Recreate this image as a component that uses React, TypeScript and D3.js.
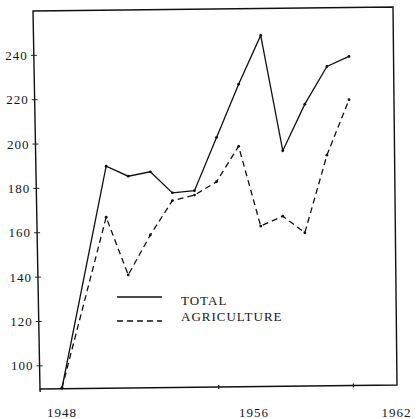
import React, { useEffect, useRef } from 'react';
import * as d3 from 'd3';

const years = [1948, 1950, 1951, 1952, 1953, 1954, 1955, 1956, 1957, 1958, 1959, 1960, 1961];
const totalValues = [90, 190, 185.5, 187.5, 178, 179, 203, 227, 249, 197, 218, 235, 239.5];
const agricultureValues = [90, 167, 141, 159, 174.5, 177, 183, 199, 163, 167.5, 160, 195, 220];

const yTicks = [100, 120, 140, 160, 180, 200, 220, 240];
const xTickLabels = ['1948', '1956', '1962'];
// labels in the original sit a little off the yearly grid
const xTickAt = [1948, 1956.7, 1963.15];
const xTickMarks = [1955.1, 1961.2];

const W = 417;
const H = 419;
const FONT = "Liberation Serif, DejaVu Serif, serif";

const App: React.FC = () => {
  const svgRef = useRef<SVGSVGElement>(null);

  useEffect(() => {
    if (!svgRef.current) return;
    const svg = d3.select(svgRef.current);
    svg.selectAll('*').remove();

    const x = d3.scaleLinear().domain([1948, 1961]).range([62, 349]);
    const y = d3.scaleLinear().domain([90, 260]).range([388, 11]);

    // the scanned frame is a bit skewed
    const frame = { tl: [33, 11], tr: [393, 7], br: [397, 385], bl: [40, 389] };
    const leftEdge = (py: number) => frame.tl[0] + (py - frame.tl[1]) * (frame.bl[0] - frame.tl[0]) / (frame.bl[1] - frame.tl[1]);
    const bottomEdge = (px: number) => frame.bl[1] + (px - frame.bl[0]) * (frame.br[1] - frame.bl[1]) / (frame.br[0] - frame.bl[0]);

    svg.append('rect').attr('width', W).attr('height', H).attr('fill', '#fff');

    svg.append('path')
      .attr('d', `M${frame.tl}L${frame.tr}L${frame.br}L${frame.bl}Z`)
      .attr('fill', 'none')
      .attr('stroke', '#111')
      .attr('stroke-width', 1.4);
    // left axis pokes out under the bottom line
    svg.append('line')
      .attr('x1', frame.bl[0]).attr('y1', frame.bl[1])
      .attr('x2', frame.bl[0] + 0.2).attr('y2', frame.bl[1] + 3)
      .attr('stroke', '#111').attr('stroke-width', 1.4);

    const textStyle = (sel: d3.Selection<SVGTextElement, unknown, null, undefined>) => sel
      .style('font-family', FONT)
      .attr('font-size', 13)
      .attr('letter-spacing', 1)
      .attr('fill', '#151515');

    // y axis ticks and labels
    const yg = svg.append('g');
    yTicks.forEach(t => {
      const py = y(t);
      const lx = leftEdge(py);
      yg.append('line')
        .attr('x1', lx - 3).attr('x2', lx + 3)
        .attr('y1', py).attr('y2', py)
        .attr('stroke', '#222').attr('stroke-width', 1);
      yg.append('text')
        .attr('x', lx - 6)
        .attr('y', py)
        .attr('dy', '0.35em')
        .attr('text-anchor', 'end')
        .call(textStyle as any)
        .text(t);
    });

    // x axis labels and stray tick marks
    const xg = svg.append('g');
    xTickLabels.forEach((lab, i) => {
      xg.append('text')
        .attr('x', x(xTickAt[i]))
        .attr('y', 417)
        .attr('text-anchor', 'middle')
        .call(textStyle as any)
        .text(lab);
    });
    xTickMarks.forEach(t => {
      const px = x(t);
      const py = bottomEdge(px);
      xg.append('line')
        .attr('x1', px).attr('x2', px)
        .attr('y1', py - 2).attr('y2', py + 2)
        .attr('stroke', '#222').attr('stroke-width', 1.3);
    });

    const line = d3.line<number>()
      .x((_, i) => x(years[i]))
      .y(d => y(d));

    const series = [
      { values: totalValues, dash: null as string | null },
      { values: agricultureValues, dash: '6,4' },
    ];

    series.forEach(s => {
      svg.append('path')
        .datum(s.values)
        .attr('d', line)
        .attr('fill', 'none')
        .attr('stroke', '#111')
        .attr('stroke-width', 1.3)
        .attr('stroke-dasharray', s.dash);
      svg.append('g')
        .selectAll('circle')
        .data(s.values)
        .enter()
        .append('circle')
        .attr('cx', (_, i) => x(years[i]))
        .attr('cy', d => y(d))
        .attr('r', 1.4)
        .attr('fill', '#111');
    });

    // legend
    const legend = [
      { label: 'TOTAL', dash: null as string | null, ly: 297, ty: 305 },
      { label: 'AGRICULTURE', dash: '6,4', ly: 321, ty: 321 },
    ];
    const lg = svg.append('g');
    legend.forEach(l => {
      lg.append('line')
        .attr('x1', 117).attr('x2', 162)
        .attr('y1', l.ly).attr('y2', l.ly)
        .attr('stroke', '#111')
        .attr('stroke-width', 1.3)
        .attr('stroke-dasharray', l.dash);
      lg.append('text')
        .attr('x', 181)
        .attr('y', l.ty)
        .call(textStyle as any)
        .text(l.label);
    });
  }, []);

  return (
    <div style={{ position: 'fixed', left: 0, top: 0, width: W, height: H, background: '#fff' }}>
      <svg ref={svgRef} width={W} height={H} style={{ display: 'block' }}></svg>
    </div>
  );
};

export default App;
